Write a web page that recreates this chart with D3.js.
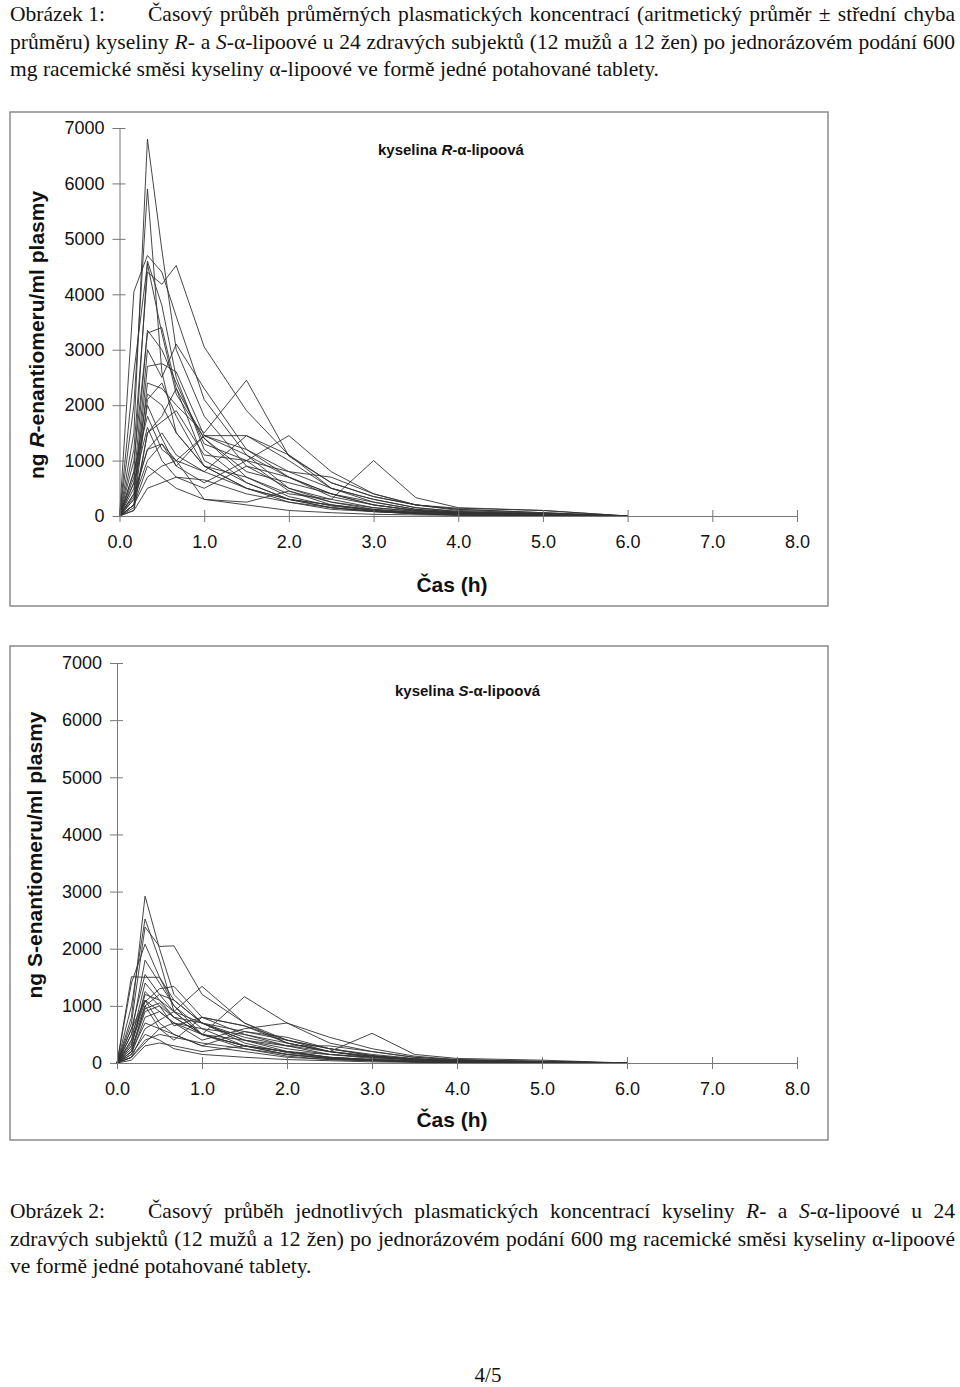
<!DOCTYPE html>
<html>
<head>
<meta charset="utf-8">
<script src="https://cdn.jsdelivr.net/npm/d3@7"></script>
<style>
  body { margin: 0; background: #fff; }
  svg { display: block; }
</style>
</head>
<body>
<div id="container"></div>
<script>
// sampling times (h)
const timesH = [0, 0.17, 0.33, 0.5, 0.67, 1, 1.5, 2, 2.5, 3, 3.5, 4, 5, 6];

// individual plasma concentrations, R-enantiomer (ng/ml), 24 subjects
const rConc = [
    [0, 1500, 6800, 4800, 3000, 1800, 900, 500, 250, 150, 80, 50, 20, 0],
    [0, 2000, 5900, 2600, 1500, 900, 500, 250, 120, 80, 40, 20, 10, 0],
    [0, 4050, 4700, 4400, 3600, 2100, 1100, 500, 300, 150, 90, 50, 20, 0],
    [0, 1200, 4400, 4180, 4520, 3050, 1900, 1100, 600, 350, 200, 120, 60, 0],
    [0, 2600, 4550, 3300, 2200, 1400, 700, 350, 180, 100, 60, 30, 10, 0],
    [0, 800, 4600, 3800, 2500, 1200, 600, 300, 150, 90, 50, 30, 10, 0],
    [0, 600, 3350, 3000, 2400, 1300, 1000, 450, 250, 120, 60, 40, 20, 0],
    [0, 400, 3000, 2500, 3100, 2300, 1200, 700, 400, 200, 100, 60, 30, 0],
    [0, 300, 2700, 2750, 2600, 1450, 1450, 1100, 500, 250, 120, 70, 40, 0],
    [0, 200, 2400, 2300, 2000, 1500, 2450, 1080, 600, 350, 200, 140, 100, 0],
    [0, 150, 2100, 2400, 1800, 900, 700, 400, 300, 1000, 330, 150, 100, 0],
    [0, 100, 1500, 1800, 2300, 1400, 800, 600, 400, 200, 100, 60, 30, 0],
    [0, 500, 2000, 1400, 900, 600, 1000, 1450, 800, 400, 200, 100, 50, 0],
    [0, 400, 1200, 1500, 1100, 800, 1450, 1000, 500, 300, 150, 80, 40, 0],
    [0, 800, 1800, 1200, 1000, 1450, 1100, 700, 400, 250, 120, 70, 30, 0],
    [0, 300, 1000, 1300, 900, 1450, 1200, 800, 500, 300, 150, 80, 40, 0],
    [0, 600, 1600, 1000, 700, 500, 900, 700, 350, 200, 100, 50, 20, 0],
    [0, 200, 700, 900, 1000, 800, 500, 300, 200, 100, 60, 30, 10, 0],
    [0, 100, 500, 600, 700, 650, 400, 250, 150, 80, 40, 20, 10, 0],
    [0, 350, 1200, 1300, 1000, 300, 250, 450, 200, 100, 50, 30, 10, 0],
    [0, 200, 900, 700, 500, 300, 200, 100, 60, 30, 20, 10, 0, 0],
    [0, 1000, 3300, 3400, 2300, 1000, 600, 300, 150, 80, 40, 20, 10, 0],
    [0, 200, 1500, 1700, 1900, 1100, 1000, 800, 700, 400, 200, 120, 60, 0],
    [0, 700, 2200, 2000, 1500, 900, 500, 300, 200, 120, 70, 40, 20, 0]
];

// individual plasma concentrations, S-enantiomer (ng/ml), 24 subjects
const sConc = [
    [0, 800, 2920, 2000, 1200, 700, 400, 200, 100, 60, 30, 20, 10, 0],
    [0, 1000, 2520, 1800, 900, 500, 300, 150, 80, 50, 30, 15, 5, 0],
    [0, 1510, 1500, 1500, 1100, 700, 350, 180, 90, 50, 30, 15, 5, 0],
    [0, 700, 2380, 2040, 2050, 1200, 700, 400, 200, 120, 70, 40, 20, 0],
    [0, 1400, 2080, 1500, 1000, 600, 300, 150, 80, 50, 30, 15, 5, 0],
    [0, 500, 1800, 1400, 1000, 500, 250, 120, 60, 40, 20, 10, 5, 0],
    [0, 400, 1070, 1300, 1340, 800, 500, 300, 150, 80, 40, 20, 10, 0],
    [0, 300, 1200, 1100, 900, 1340, 700, 350, 200, 100, 60, 30, 15, 0],
    [0, 200, 900, 1000, 800, 500, 1160, 700, 450, 250, 120, 60, 30, 0],
    [0, 150, 800, 900, 700, 600, 500, 350, 200, 520, 150, 80, 50, 0],
    [0, 600, 1100, 900, 700, 400, 600, 700, 350, 200, 100, 50, 20, 0],
    [0, 300, 1250, 1000, 650, 800, 650, 350, 200, 120, 60, 30, 15, 0],
    [0, 100, 600, 750, 900, 700, 400, 300, 200, 100, 60, 30, 15, 0],
    [0, 200, 700, 600, 500, 300, 550, 450, 250, 130, 70, 35, 15, 0],
    [0, 100, 400, 500, 450, 350, 250, 150, 80, 40, 20, 10, 5, 0],
    [0, 50, 300, 350, 300, 200, 300, 200, 100, 60, 30, 15, 5, 0],
    [0, 500, 1100, 700, 500, 300, 200, 100, 60, 40, 20, 10, 5, 0],
    [0, 250, 950, 1050, 800, 700, 550, 400, 250, 150, 80, 40, 20, 0],
    [0, 350, 1000, 600, 400, 800, 650, 400, 250, 130, 70, 35, 15, 0],
    [0, 100, 350, 600, 700, 500, 300, 200, 150, 100, 50, 30, 10, 0],
    [0, 600, 1550, 1200, 900, 500, 300, 200, 100, 60, 30, 15, 5, 0],
    [0, 200, 1000, 1200, 1100, 700, 450, 300, 300, 200, 100, 60, 30, 0],
    [0, 150, 500, 400, 250, 150, 100, 60, 40, 20, 10, 5, 0, 0],
    [0, 400, 1400, 1100, 800, 500, 400, 250, 150, 100, 60, 30, 20, 0]
];

const yTickValues = [0, 1000, 2000, 3000, 4000, 5000, 6000, 7000];
const xTickValues = [0, 1, 2, 3, 4, 5, 6, 7, 8];

const caption1 = [
    ['Časový', 'průběh', 'průměrných', 'plasmatických', 'koncentrací', '(aritmetický', 'průměr', '±', 'střední', 'chyba'],
    ['průměru)', 'kyseliny', '*R*-', 'a', '*S*-α-lipoové', 'u', '24', 'zdravých', 'subjektů', '(12', 'mužů', 'a', '12', 'žen)', 'po', 'jednorázovém', 'podání', '600'],
    ['mg', 'racemické', 'směsi', 'kyseliny', 'α-lipoové', 've', 'formě', 'jedné', 'potahované', 'tablety.']
];
const caption2 = [
    ['Časový', 'průběh', 'jednotlivých', 'plasmatických', 'koncentrací', 'kyseliny', '*R*-', 'a', '*S*-α-lipoové', 'u', '24'],
    ['zdravých', 'subjektů', '(12', 'mužů', 'a', '12', 'žen)', 'po', 'jednorázovém', 'podání', '600', 'mg', 'racemické', 'směsi', 'kyseliny', 'α-lipoové'],
    ['ve', 'formě', 'jedné', 'potahované', 'tablety.']
];

const width = 960;
const height = 1387;
const sans = 'Liberation Sans, Arial, Helvetica, sans-serif';
const serif = 'Liberation Serif, Times New Roman, serif';

const svg = d3.select('#container')
              .append('svg')
              .attr('width', width)
              .attr('height', height);

// words placed one by one, gaps stretched when justified
function textLine(g, words, x0, x1, y, justify) {
    const els = words.map(w => {
        const t = g.append('text').attr('y', y);
        w.split('*').forEach((part, i) => {
            if (part) t.append('tspan').style('font-style', i % 2 ? 'italic' : 'normal').text(part);
        });
        return t;
    });
    const widths = els.map(t => t.node().getComputedTextLength());
    const gap = justify ? (x1 - x0 - d3.sum(widths)) / (words.length - 1) : 5.4;
    let x = x0;
    els.forEach((t, i) => {
        t.attr('x', x);
        x += widths[i] + gap;
    });
}

function caption(top, label, lines) {
    const g = svg.append('g')
                 .attr('font-family', serif)
                 .attr('font-size', 21.5)
                 .attr('fill', '#111');
    g.append('text').attr('x', 10).attr('y', top).text(label);
    textLine(g, lines[0], 148, 955, top, true);
    textLine(g, lines[1], 10, 955, top + 27.5, true);
    textLine(g, lines[2], 10, 955, top + 55, false);
}

function panel(cfg) {
    const g = svg.append('g');

    g.append('rect')
     .attr('x', cfg.frame[0])
     .attr('y', cfg.frame[1])
     .attr('width', cfg.frame[2])
     .attr('height', cfg.frame[3])
     .attr('fill', 'none')
     .attr('stroke', '#8a8a8a')
     .attr('stroke-width', 1.5);

    const x = d3.scaleLinear().domain([0, 8]).range(cfg.xRange);
    const y = d3.scaleLinear().domain([0, 7000]).range(cfg.yRange);

    const line = d3.line()
                   .x((d, i) => x(timesH[i]))
                   .y(d => y(d));

    g.append('g')
     .selectAll('path')
     .data(cfg.data)
     .enter()
     .append('path')
     .attr('d', line)
     .attr('fill', 'none')
     .attr('stroke', '#333')
     .attr('stroke-opacity', 0.9)
     .attr('stroke-width', 1);

    const yAxis = g.append('g')
                   .attr('transform', 'translate(' + cfg.xRange[0] + ',0)')
                   .call(d3.axisLeft(y).tickValues(yTickValues).tickFormat(d3.format('d'))
                           .tickSize(7).tickSizeOuter(0).tickPadding(8));
    yAxis.selectAll('.tick line').attr('x1', 6);

    const xAxis = g.append('g')
                   .attr('transform', 'translate(0,' + cfg.yRange[0] + ')')
                   .call(d3.axisBottom(x).tickValues(xTickValues).tickFormat(d3.format('.1f'))
                           .tickSize(6).tickSizeOuter(0).tickPadding(13));
    xAxis.selectAll('.tick line').attr('y1', -6);

    g.selectAll('.domain, .tick line').attr('stroke', '#777');
    g.selectAll('.tick text')
     .attr('font-family', sans)
     .attr('font-size', 18)
     .attr('fill', '#111');

    g.append('text')
     .attr('transform', 'translate(' + cfg.yLabel[0] + ',' + cfg.yLabel[1] + ') rotate(-90)')
     .attr('text-anchor', 'middle')
     .attr('dy', '0.35em')
     .attr('font-family', sans)
     .attr('font-weight', 'bold')
     .attr('font-size', 21)
     .attr('fill', '#111')
     .call(t => {
         t.append('tspan').text('ng ');
         t.append('tspan').style('font-style', cfg.italic ? 'italic' : 'normal').text(cfg.letter);
         t.append('tspan').text('-enantiomeru/ml plasmy');
     });

    g.append('text')
     .attr('x', 452)
     .attr('y', cfg.xLabelY)
     .attr('text-anchor', 'middle')
     .attr('font-family', sans)
     .attr('font-weight', 'bold')
     .attr('font-size', 21)
     .attr('fill', '#111')
     .text('Čas (h)');

    g.append('text')
     .attr('x', cfg.note[0])
     .attr('y', cfg.note[1])
     .attr('font-family', sans)
     .attr('font-weight', 'bold')
     .attr('font-size', 15)
     .attr('fill', '#111')
     .call(t => {
         t.append('tspan').text('kyselina ');
         t.append('tspan').style('font-style', 'italic').text(cfg.letter);
         t.append('tspan').text('-α-lipoová');
     });
}

caption(21, 'Obrázek 1:', caption1);

panel({
    data: rConc,
    frame: [10, 112, 818, 494],
    xRange: [119.5, 797],
    yRange: [516, 128],
    yLabel: [37, 335],
    xLabelY: 592,
    note: [378, 155],
    letter: 'R',
    italic: true
});

panel({
    data: sConc,
    frame: [10, 646, 818, 494],
    xRange: [117, 797],
    yRange: [1063, 663],
    yLabel: [35, 855],
    xLabelY: 1127,
    note: [395, 696],
    letter: 'S',
    italic: false
});

caption(1218, 'Obrázek 2:', caption2);

svg.append('text')
   .attr('x', 488)
   .attr('y', 1382)
   .attr('text-anchor', 'middle')
   .attr('font-family', serif)
   .attr('font-size', 21)
   .attr('fill', '#111')
   .text('4/5');
</script>
</body>
</html>
